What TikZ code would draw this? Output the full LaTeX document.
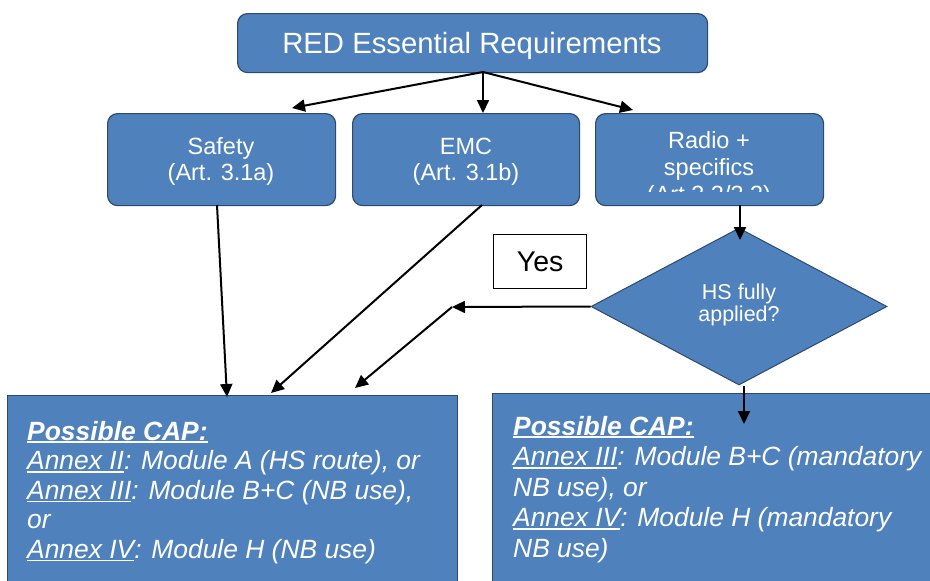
\documentclass[tikz,border=0pt]{standalone}
\usepackage{fontspec}
\setmainfont{Liberation Sans}
\usetikzlibrary{arrows.meta,shapes.geometric}
\definecolor{boxblue}{HTML}{4F81BD}
\definecolor{boxline}{HTML}{2C4A6E}
\newcommand{\ulx}[2][1.6pt]{\setbox0\hbox{#2}\rlap{\rule[-3.2pt]{\wd0}{#1}}\box0}
\begin{document}
\begin{tikzpicture}[x=1pt,y=-1pt,
  rbox/.style={draw=boxline, line width=1.2pt, fill=boxblue, rounded corners=10pt, inner sep=0pt, anchor=north west},
  sqbox/.style={draw=boxline, line width=1.2pt, fill=boxblue, inner sep=0pt, anchor=north west},
  wtext/.style={text=white, inner sep=0pt, align=center},
  midfont/.style={font=\fontsize{23.5}{26}\selectfont},
  captext/.style={text=white, inner sep=0pt, align=left, anchor=base west},
  arr/.style={line width=2pt, -{Triangle[length=13pt,width=12pt]}}]
\clip (0,0) rectangle (930,581);
\fill[white] (0,0) rectangle (930,581);
% boxes
\node[rbox, minimum width=470pt, minimum height=59pt] (top) at (237,13) {};
\node[rbox, minimum width=228pt, minimum height=92pt] (safety) at (107,113) {};
\node[rbox, minimum width=227pt, minimum height=92pt] (emc) at (352,113) {};
\node[rbox, minimum width=228pt, minimum height=92pt] (radio) at (595,113) {};
\node[draw=boxline, line width=1pt, fill=boxblue, shape=diamond, shape aspect=1.885,
      minimum width=296pt, minimum height=157pt, inner sep=0pt] (hs) at (739,306.5) {};
\node[draw=black, line width=1.2pt, fill=white, minimum width=93pt, minimum height=54pt,
      anchor=north west, inner sep=0pt, font=\fontsize{28.5}{32}\selectfont] (yes) at (493,234) {Yes};
\node[sqbox, minimum width=450pt, minimum height=215pt] (cap1) at (7,395) {};
\node[sqbox, minimum width=450pt, minimum height=215pt] (cap2) at (492,393) {};
% texts (base anchor = baseline of the last line)
\node[wtext, anchor=base, font=\fontsize{29.3}{34}\selectfont] (toptxt) at (472,53) {RED Essential Requirements};
\node[wtext, anchor=base, midfont] (safetytxt) at (221,180) {Safety\\(Art. 3.1a)};
\node[wtext, anchor=base, midfont] (emctxt) at (466,180) {EMC\\(Art. 3.1b)};
\begin{scope}
\clip (595,113) rectangle (823,191);
\node[wtext, anchor=base, font=\fontsize{23.5}{27}\selectfont] (radiotxt) at (709,202) {Radio +\\specifics\\(Art 3.2/3.3)};
\end{scope}
\node[wtext, anchor=base, font=\fontsize{21.5}{22.5}\selectfont] (hstxt) at (739,321.5) {HS fully\\applied?};
\node[captext, font=\fontsize{26.4}{29.5}\selectfont\itshape] (cap1txt) at (27,558)
  {\ulx[2.2pt]{\bfseries Possible CAP:}\\
   \ulx{Annex II}: Module A (HS route), or\\
   \ulx{Annex III}: Module B+C (NB use),\\
   or\\
   \ulx{Annex IV}: Module H (NB use)};
\node[captext, font=\fontsize{26.4}{30.5}\selectfont\itshape] (cap2txt) at (513,557)
  {\ulx[2.2pt]{\bfseries Possible CAP:}\\
   \ulx{Annex III}: Module B+C (mandatory\\
   NB use), or\\
   \ulx{Annex IV}: Module H (mandatory\\
   NB use)};
% connector points
\coordinate (topout) at (483,72);
\coordinate (toSafety) at (292,108);
\coordinate (toEmc) at (483,113);
\coordinate (toRadio) at (633,110);
\coordinate (safetyOut) at (217,205);
\coordinate (safetyIn) at (227,397);
\coordinate (emcOut) at (482,205);
\coordinate (emcIn) at (271,393);
\coordinate (radioOut) at (740,205);
\coordinate (hsIn) at (740,240);
\coordinate (yesPt) at (452,307);
\coordinate (yesIn) at (355,388);
\coordinate (hsOut) at (744,386);
\coordinate (cap2In) at (744,424);
% connectors
\draw[arr] (topout) -- (toSafety);
\draw[arr] (topout) -- (toEmc);
\draw[arr] (topout) -- (toRadio);
\draw[arr] (safetyOut) -- (safetyIn);
\draw[arr] (emcOut) -- (emcIn);
\draw[arr] (radioOut) -- (hsIn);
\draw[arr] (hs.west) -- (yesPt);
\draw[arr] (yesPt) -- (yesIn);
\draw[arr] (hsOut) -- (cap2In);
\end{tikzpicture}
\end{document}
